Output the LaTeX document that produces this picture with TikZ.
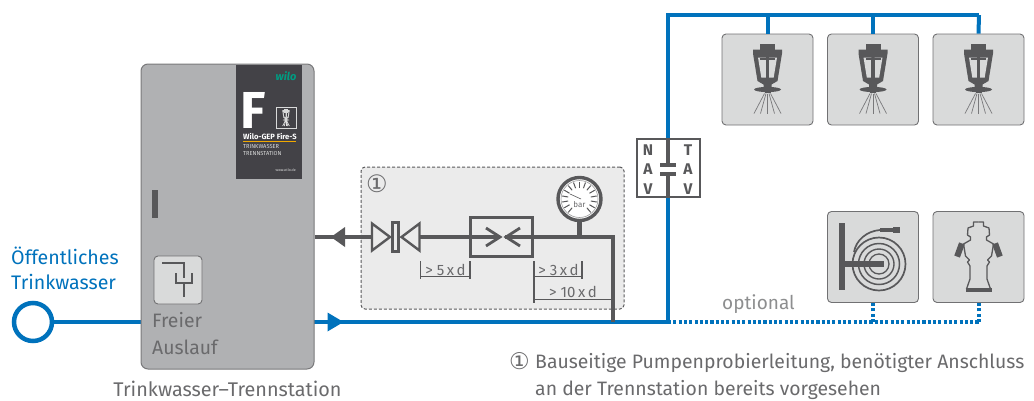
\documentclass[tikz,border=0pt]{standalone}
\usepackage{fontspec}
\usetikzlibrary{calc}
\setmainfont{Fira Sans}
\newfontfamily\symfont{DejaVu Sans}
\definecolor{wblue}{HTML}{0072BC}
\definecolor{wdark}{HTML}{58585A}
\definecolor{wtext}{HTML}{6A6A6C}
\definecolor{wgray}{HTML}{B0B1B3}
\definecolor{wlight}{HTML}{D9DADA}
\definecolor{wpale}{HTML}{EBEBEB}
\definecolor{wpanel}{HTML}{434247}
\definecolor{wgreen}{HTML}{009C82}
\definecolor{worange}{HTML}{F0A800}
\tikzset{
  water/.style={draw=wblue,line width=4pt},
  waterdot/.style={draw=wblue,line width=4pt,dash pattern=on 3.1pt off 2.2pt},
  pipe/.style={draw=wdark,line width=4.4pt},
  thinpipe/.style={draw=wdark,line width=3.4pt},
  dim/.style={draw=wdark,line width=1pt},
  dimend/.style={draw=wdark,line width=1.6pt},
  iconbox/.style={draw=wdark!85,line width=.9pt,fill=wlight,rounded corners=4pt,minimum width=91pt,minimum height=91pt,inner sep=0pt},
  cabinet/.style={draw=wdark!80,line width=1pt,fill=wgray,rounded corners=7pt,minimum width=173pt,minimum height=305pt,inner sep=0pt},
  lbl/.style={text=wtext,inner sep=0pt,font=\fontsize{19.4}{19.4}\selectfont},
  dimtext/.style={text=wtext,inner sep=0pt,font=\fontsize{15}{15}\selectfont},
  navtext/.style={text=wdark,inner sep=0pt,font=\bfseries\fontsize{15.5}{15.5}\selectfont},
  sym/.style={draw=wdark,line width=2pt},
}
\newcommand{\sprinklerat}[5]{%
\begin{scope}[shift={(#1,#2)},scale=#3]
  \fill[#4] (-7.5,-35.5) rectangle (7.5,-30);
  \fill[#4] (-14.5,-30) -- (14.5,-30) -- (14.5,-26) -- (10,1.5) -- (4,5) -- (4,9) -- (-4,9) -- (-4,5) -- (-10,1.5) -- (-14.5,-26) -- cycle;
  \fill[#5] (-9.5,-22) -- (-1.7,-22) -- (-1.7,-2) -- (-6.2,-2) -- cycle;
  \fill[#5] (9.5,-22) -- (1.7,-22) -- (1.7,-2) -- (6.2,-2) -- cycle;
  \fill[#4] (-7.5,-22) rectangle (7.5,-19.5);
  \fill[#4] (-1.7,-19.5) rectangle (1.7,-2);
  \fill[#4] (0,10) ellipse (13.5 and 2.6);
  \fill[#4] (-3,10) rectangle (3,13);
  \foreach \a/\b in {-3/-13.5,-1.5/-7,0/0,1.5/7,3/13.5}
    \draw[#4!80!white,line width=.7pt] (\a,14) -- (\b,34);
\end{scope}}
\begin{document}
\begin{tikzpicture}[x=1pt,y=-1pt]
\useasboundingbox (0,0) rectangle (1034,400);
% main nodes
\coordinate (cabc) at (227.5,216.5);
\node[circle,draw=wblue,line width=4.5pt,fill=white,minimum size=38pt,inner sep=0pt] (src) at (33,322) {};
\coordinate (riser) at (668,322);
\coordinate (tl) at (668,15);
\coordinate (tr) at (979,15);
% dashed test-line box
\node[draw=wdark,fill=wpale,dash pattern=on 3pt off 2pt,line width=1pt,rounded corners=4pt,minimum width=263pt,minimum height=142pt,inner sep=0pt] (test) at (492.5,238) {};
% connectors behind boxes
\coordinate (cabout) at (314,322);
\coordinate (cabin) at (141,322);
\draw[water] (src.east) -- (cabin);
\draw[water] (cabout) -- (riser);
\draw[water,line join=miter] (riser) -- (tl) -- (tr);
\fill[wblue] (327.5,312.5) -- (343.5,322) -- (327.5,331.5) -- cycle;
% cabinet
\node[cabinet] (cab) at (cabc) {};
% panel
\fill[wpanel] (236,64.5) rectangle (302,179);
\node[inner sep=0pt,text=wgreen,font=\bfseries\itshape\fontsize{11}{11}\selectfont] (logo) at (286,76) {wilo};
\node[inner sep=0pt,text=white,font=\bfseries\fontsize{52}{52}\selectfont,anchor=base west] (bigf) at (240.5,128.5) {F};
\node[draw=wlight,line width=.7pt,fill=wpanel,minimum width=20pt,minimum height=21pt,inner sep=0pt] (minibox) at (286,117.5) {};
\sprinklerat{286}{117.5}{.25}{wlight}{wpanel}
\node[inner sep=0pt,text=white,font=\bfseries\fontsize{7.6}{7.6}\selectfont,anchor=base west] (gep) at (243,139) {Wilo-GEP Fire-S};
\fill[worange] (243,141) rectangle (296,142);
\node[inner sep=0pt,text=wlight,font=\fontsize{5.7}{6.8}\selectfont,anchor=north west,align=left] (tts) at (243,144.5) {TRINKWASSER\\TRENNSTATION};
\node[inner sep=0pt,text=wlight,font=\fontsize{3.6}{4}\selectfont,anchor=east] (www) at (296,170.5) {www.wilo.de};
% handle
\node[fill=wdark,minimum width=6pt,minimum height=28pt,inner sep=0pt] (handle) at (155,204) {};
% free outlet
\node[iconbox,minimum width=48pt,minimum height=48pt,fill=wlight] (outlet) at (178,280) {};
\draw[sym] (162,263) -- (184,263) -- (184,278);
\draw[sym] (176,273) -- (176,283) -- (192,283) -- (192,273);
\draw[sym] (184,283) -- (184,297);
\node[lbl,anchor=base west] (fr) at (152,327) {Freier};
\node[lbl,anchor=base west] (au) at (152,354) {Auslauf};
% test line
\coordinate (p1) at (613,237);
\coordinate (p2) at (613,322);
\coordinate (p0) at (cab.east |- p1);
\node[draw=wdark,line width=3pt,fill=wpale,minimum width=62pt,minimum height=39pt,inner sep=0pt] (bypass) at (501.5,237) {};
\node[draw=wdark,line width=2.4pt,fill=wpale,minimum width=6pt,minimum height=29pt,inner sep=0pt] (vmid) at (395.5,237) {};
\coordinate (vr) at (420,237);
\coordinate (vl) at (371,237);
\draw[pipe] (p0) -- (vl);
\draw[pipe] (vr) -- (bypass.west);
\draw[pipe] (bypass.west) -- (500,237);
\draw[thinpipe,line join=miter] (505,237) -- (p1) -- (p2);
\fill[wdark] (331,237) -- (345,227) -- (345,247) -- cycle;
\draw[draw=wdark,line width=2.4pt,fill=wpale] (372,223.5) -- (390,237) -- (372,250.5) -- cycle;
\draw[draw=wdark,line width=2.4pt,fill=wpale] (419.5,223.5) -- (401.5,237) -- (419.5,250.5) -- cycle;
\draw[draw=wdark,line width=2.8pt] (486,228) -- (500,237) -- (486,246);
\draw[draw=wdark,line width=2.8pt] (520,228) -- (506,237) -- (520,246);
% gauge
\node[circle,draw=wdark,line width=3.4pt,fill=white,minimum size=43pt,inner sep=0pt] (gauge) at (579.5,199) {};
\draw[thinpipe,line width=4.8pt] (gauge.south) -- (gauge.south |- p1);
\draw[wdark!60,line width=.6pt] (gauge) circle (18.5);
\foreach \a in {130,150,...,410}
  \draw[wdark,line width=1pt] ($(gauge)+(\a:11.5)$) -- ($(gauge)+(\a:17.5)$);
\draw[wdark,line width=.6pt] (570,194) -- (581,199);
\node[inner sep=0pt,text=wtext,font=\fontsize{8}{8}\selectfont] (bar) at (579.5,205) {bar};
% dimensions
\coordinate (d1a) at (420.5,261);
\coordinate (d1b) at (470,261);
\coordinate (d2a) at (534,261);
\coordinate (d2b) at (582,261);
\draw[dimend] (d1a) -- ++(0,18);
\draw[dimend] (d1b) -- ++(0,18);
\draw[dim] (420.5,276) -- (470,276);
\draw[dimend] (d2b) -- ++(0,18);
\draw[dimend] (d2a) -- ++(0,42);
\draw[dim] (534,276) -- (582,276);
\draw[dim] (534,299) -- (613,299);
\node[dimtext] (t5) at (445.5,269.5) {> 5\,x\,d};
\node[dimtext] (t3) at (558.5,269.5) {> 3\,x\,d};
\node[dimtext] (t10) at (573,291.5) {> 10\,x\,d};
\node[inner sep=0pt,text=wtext,font=\symfont\fontsize{24}{24}\selectfont] (num) at (377,183.5) {①};
% sprinklers
\node[iconbox] (s1) at (767.5,79.5) {};
\node[iconbox] (s2) at (873,79.5) {};
\node[iconbox] (s3) at (978.5,79.5) {};
\draw[water] (s1.north |- tl) -- (s1.north);
\draw[water] (s2.north |- tl) -- (s2.north);
\draw[water] (tr) -- (s3.north);
\foreach \p in {767.5,873,978.5} {\sprinklerat{\p}{79.5}{1}{wdark}{wlight}}
% NAV / TAV
\node[draw=wdark,line width=2.4pt,fill=white,minimum width=63pt,minimum height=58pt,inner sep=0pt] (nav) at (668.5,168) {};
\coordinate (cap1) at (668,165);
\coordinate (cap2) at (668,174);
\draw[pipe] (nav.north -| cap1) -- (cap1);
\draw[pipe] (cap2) -- (nav.south -| cap2);
\draw[pipe] (660,165) -- (676,165);
\draw[pipe] (660,174) -- (676,174);
\node[navtext] (n1) at (648,150) {N};
\node[navtext] (n2) at (648,169.5) {A};
\node[navtext] (n3) at (648,189) {V};
\node[navtext] (t1) at (688,150) {T};
\node[navtext] (t2) at (688,169.5) {A};
\node[navtext] (t3b) at (688,189) {V};
% optional consumers
\node[iconbox] (h1) at (873,257) {};
\node[iconbox] (h2) at (978.5,257) {};
\coordinate (o1) at (h1.south |- riser);
\coordinate (o2) at (h2.south |- riser);
\draw[waterdot] (riser) -- (o2);
\draw[waterdot] (o1) -- (h1.south);
\draw[waterdot] (o2) -- (h2.south);
\node[inner sep=0pt,text=wgray!80!black,font=\fontsize{19}{19}\selectfont,anchor=base west] (opt) at (722,309) {optional};
% hose reel
\begin{scope}[shift={(h1)}]
  \foreach \r/\w in {26.5/1.7,20.5/1.5,15/1.4,10/1.3} \draw[wdark,line width=\w pt] (6,7) circle (\r);
  \fill[wdark] (-34,-34) rectangle (-28,33);
  \fill[wdark] (-28,4) rectangle (11,9.5);
  \draw[wdark,line width=1.7pt] (-19,-5) .. controls (-17,-17) and (-6,-26) .. (7,-27);
  \fill[wdark] (7,-29) rectangle (20,-25);
  \fill[wdark] (20,-30.5) rectangle (27,-24);
\end{scope}
% hydrant
\begin{scope}[shift={(h2)}]
  \foreach \s in {1,-1} {
  \begin{scope}[xscale=\s]
    \draw[wdark,line width=1.3pt,line join=round] (0,-35) -- (5,-35) -- (5,-31) -- (10.5,-29) -- (11,-22) -- (8,-20) -- (8,-17) -- (15,-13) -- (13,-1) -- (9,3) -- (11,5) -- (8.5,9) -- (8.5,22) -- (12,32);
    \fill[wdark,rotate around={20:(19,-7)}] (16,-14) rectangle (22,0);
    \fill[wdark] (0,31) rectangle (13,35);
  \end{scope}}
\end{scope}
% labels
\node[inner sep=0pt,text=wblue,font=\fontsize{19.6}{19.6}\selectfont,anchor=base west] (oe) at (11,264) {Öffentliches};
\node[inner sep=0pt,text=wblue,font=\fontsize{19.6}{19.6}\selectfont,anchor=base west] (tw) at (11,289) {Trinkwasser};
\node[lbl,anchor=base,font=\fontsize{19.8}{19.8}\selectfont] (cabl) at (227.5,396) {Trinkwasser–Trennstation};
\node[inner sep=0pt,text=wtext,font=\symfont\fontsize{23}{23}\selectfont,anchor=base west] (capn) at (509,369) {①};
\node[lbl,anchor=base west] (cap1t) at (535,368) {Bauseitige Pumpenprobierleitung, benötigter Anschluss};
\node[lbl,anchor=base west] (cap2t) at (535,395) {an der Trennstation bereits vorgesehen};
\end{tikzpicture}
\end{document}
